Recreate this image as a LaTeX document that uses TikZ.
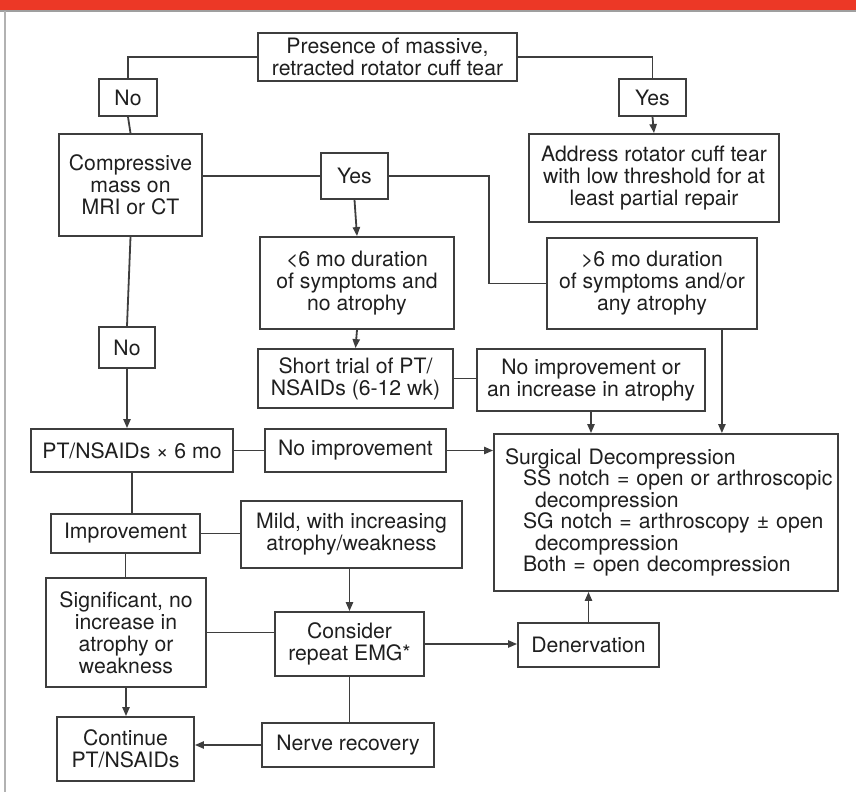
\documentclass[tikz,border=0pt]{standalone}
\usepackage{fontspec}
\setmainfont{TeX Gyre Heros}
\usetikzlibrary{arrows.meta}
\definecolor{hdred}{RGB}{236,56,38}
\definecolor{ink}{RGB}{62,62,62}
\tikzset{
  cell/.style={draw=ink, line width=0.9pt, align=center, inner sep=2pt, text=black!88,
    font=\fontsize{10.6pt}{11pt}\selectfont},
  sz/.style 2 args={minimum width=#1, minimum height=#2},
  link/.style={draw=ink, line width=0.9pt},
  arr/.style={link, -{Triangle[length=4.5pt,width=3.6pt]}},
}
\begin{document}
\begin{tikzpicture}[x=0.5pt,y=-0.5pt]
  \useasboundingbox (0,0) rectangle (856,792);
  % frame
  \fill[hdred] (0,0) rectangle (856,10);
  \draw[gray!75, line width=1pt] (0,11) -- (856,11);
  \draw[gray!60, line width=1pt] (5,11) -- (5,792);

  % boxes
  \node[cell, sz={129.5pt}{24pt}] (top) at (387.5,57) {Presence of massive,\\retracted rotator cuff tear};
  \node[cell, sz={29pt}{18.5pt}] (no1) at (128,97.5) {No};
  \node[cell, sz={33.5pt}{18.5pt}] (yes1) at (652.5,97.5) {Yes};
  \node[cell, sz={125pt}{44pt}] (addr) at (654,178) {Address rotator cuff tear\\with low threshold for at\\least partial repair};
  \node[cell, sz={71.5pt}{51pt}] (comp) at (130.5,185) {Compressive\\mass on\\MRI or CT};
  \node[cell, sz={33.5pt}{23pt}] (yes2) at (354.5,176) {Yes};
  \node[cell, sz={97pt}{46pt}] (lt6) at (357,283) {<6 mo duration\\of symptoms and\\no atrophy};
  \node[cell, sz={105pt}{45.5pt}] (gt6) at (652,283.5) {>6 mo duration\\of symptoms and/or\\any atrophy};
  \node[cell, sz={28pt}{20.5pt}] (no2) at (127,347.5) {No};
  \node[cell, sz={97.5pt}{29.5pt}] (short) at (355.5,378.5) {Short trial of PT/\\NSAIDs (6-12 wk)};
  \node[cell, sz={114pt}{31pt}] (noinc) at (591,380) {No improvement or\\an increase in atrophy};
  \node[cell, sz={101pt}{21.5pt}] (pt6) at (132,450.5) {PT/NSAIDs × 6 mo};
  \node[cell, sz={90.5pt}{21.5pt}] (noimp) at (355.5,450.5) {No improvement};
  \node[cell, sz={172pt}{78.5pt}, align=left, text width=161pt, inner xsep=5.5pt,
    font=\fontsize{10.6pt}{10.75pt}\selectfont] (surg) at (666,512.5)
    {Surgical Decompression\\
     \mbox{\hspace{9pt}SS notch = open or arthroscopic}\\
     \mbox{\hspace{15pt}decompression}\\
     \mbox{\hspace{9pt}SG notch = arthroscopy ± open}\\
     \mbox{\hspace{15pt}decompression}\\
     \mbox{\hspace{9pt}Both = open decompression}};
  \node[cell, sz={74.5pt}{19.5pt}] (impr) at (125.5,533.5) {Improvement};
  \node[cell, sz={110.5pt}{33.5pt}] (mild) at (351.5,534.5) {Mild, with increasing\\atrophy/weakness};
  \node[cell, sz={80pt}{54.5pt}] (sig) at (126,632.5) {Significant, no\\increase in\\atrophy or\\weakness};
  \node[cell, sz={74.5pt}{32pt}] (emg) at (349.5,644) {Consider\\repeat EMG*};
  \node[cell, sz={70.5pt}{22pt}] (den) at (588.5,645) {Denervation};
  \node[cell, sz={68.5pt}{32pt}] (cont) at (125.5,749) {Continue\\PT/NSAIDs};
  \node[cell, sz={86pt}{22pt}] (nerve) at (348,745) {Nerve recovery};

  % connectors
  \coordinate (jog) at (489,230);
  \coordinate (gtout) at ([xshift=-18pt]gt6.south east);
  \draw[link] (top.west) -| (no1.north);
  \draw[link] (top.east) -| (yes1.north);
  \draw[arr] (yes1.south) -- (addr.north);
  \draw[link] (no1.south) -- (comp.north);
  \draw[link] (yes2.west) -- (yes2.west -| comp.east);
  \draw[arr] (yes2.south) -- (lt6.north);
  \draw[link] (yes2.east) -| (jog) |- (gt6.west);
  \draw[link] (comp.south) -- (no2.north);
  \draw[arr] (no2.south) -- (no2.south |- pt6.north);
  \draw[arr] (lt6.south) -- (short.north);
  \draw[link] (short.east) -- (short.east -| noinc.west);
  \draw[arr] (noinc.south) -- (noinc.south |- surg.north);
  \draw[arr] (gtout) -- (gtout |- surg.north);
  \draw[link] (pt6.east) -- (noimp.west);
  \draw[arr] (noimp.east) -- (noimp.east -| surg.west);
  \draw[link] (pt6.south) -- (pt6.south |- impr.north);
  \draw[link] (impr.east) -- (impr.east -| mild.west);
  \draw[arr] (emg.north |- mild.south) -- (emg.north);
  \draw[link] (impr.south) -- (impr.south |- sig.north);
  \draw[link] (sig.east) -- (sig.east -| emg.west);
  \draw[arr] (emg.east) -- (emg.east -| den.west);
  \draw[arr] (den.north) -- (den.north |- surg.south);
  \draw[arr] (sig.south) -- (sig.south |- cont.north);
  \draw[link] (emg.south) -- (emg.south |- nerve.north);
  \draw[arr] (nerve.west) -- (nerve.west -| cont.east);
\end{tikzpicture}
\end{document}
